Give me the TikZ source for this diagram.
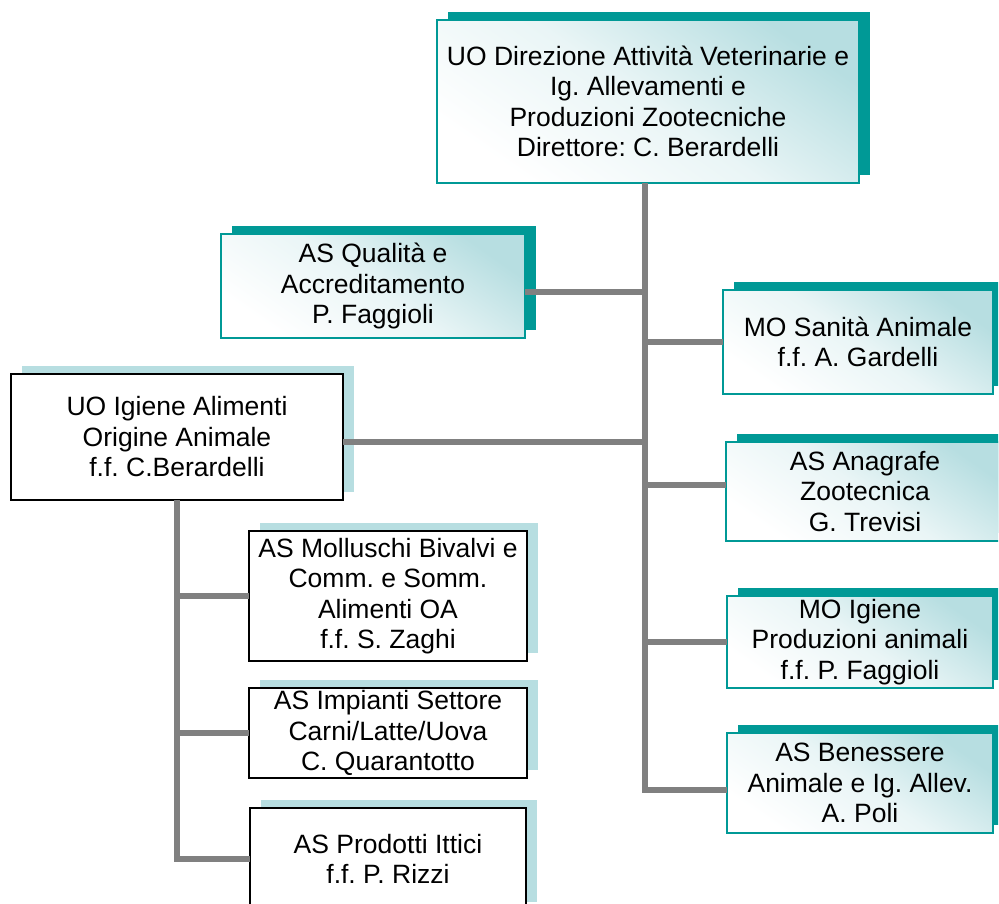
\documentclass[tikz,border=0pt]{standalone}
\usepackage{fontspec}
\setmainfont{Liberation Sans}
\usetikzlibrary{shadows}
\definecolor{tealc}{RGB}{0,153,150}
\definecolor{ltteal}{RGB}{183,222,225}
\definecolor{conng}{RGB}{128,128,128}
\tikzset{
  boxbase/.style={rectangle, inner sep=0pt, outer sep=0pt, align=center,
    font=\fontsize{26.5}{30.5}\selectfont\frenchspacing, line width=2pt},
  tealbox/.style={boxbase, draw=tealc, top color=ltteal, bottom color=white,
    middle color=white!70!ltteal, shading angle=-35,
    general shadow={fill=tealc, shadow xshift=11pt, shadow yshift=8pt}},
  blackbox/.style={boxbase, draw=black, fill=white,
    general shadow={fill=ltteal, shadow xshift=11pt, shadow yshift=8pt}},
  conn/.style={draw=conng, line width=6pt},
}
\begin{document}
\begin{tikzpicture}[x=1pt,y=-1pt]
\useasboundingbox (0,0) rectangle (999,903);
\clip (0,0) rectangle (998,903);

% top
\node[tealbox, minimum width=422pt, minimum height=163pt] (top) at (648,101.5)
  {UO Direzione Attività Veterinarie e\\Ig. Allevamenti e\\Produzioni Zootecniche\\Direttore: C. Berardelli};
\node[tealbox, minimum width=304pt, minimum height=104pt] (qual) at (373,286)
  {AS Qualità e\\Accreditamento\\P. Faggioli};
\node[tealbox, minimum width=270pt, minimum height=104pt] (san) at (858,342)
  {MO Sanità Animale\\f.f. A. Gardelli};
\node[tealbox, minimum width=278pt, minimum height=99pt] (anag) at (865,491.5)
  {AS Anagrafe\\Zootecnica\\G. Trevisi};
\node[tealbox, minimum width=266pt, minimum height=92pt] (moig) at (860,642)
  {MO Igiene\\Produzioni animali\\f.f. P. Faggioli};
\node[tealbox, minimum width=266pt, minimum height=100pt] (ben) at (860,783)
  {AS Benessere\\Animale e Ig. Allev.\\A. Poli};

% left
\node[blackbox, minimum width=332pt, minimum height=126pt] (uoig) at (177,437)
  {UO Igiene Alimenti\\Origine Animale\\f.f. C.Berardelli};
\node[blackbox, minimum width=278pt, minimum height=130pt] (moll) at (388,596)
  {AS Molluschi Bivalvi e\\Comm. e Somm.\\Alimenti OA\\f.f. S. Zaghi};
\node[blackbox, minimum width=278pt, minimum height=90pt] (imp) at (388,733)
  {AS Impianti Settore\\Carni/Latte/Uova\\C. Quarantotto};
\node[blackbox, minimum width=276pt, minimum height=102pt] (prod) at (388,859)
  {AS Prodotti Ittici\\f.f. P. Rizzi};

% connectors
\coordinate (tk) at ([xshift=-3pt]top.south);
\draw[conn] (tk) |- ([yshift=-7pt]ben.west);
\draw[conn] ([yshift=-6pt]qual.east) -- ([yshift=-6pt]qual.east -| tk);
\draw[conn] (tk |- san.west) -- (san.west);
\draw[conn] ([yshift=-5pt]uoig.east) -- ([yshift=-5pt]uoig.east -| tk);
\draw[conn] ([yshift=7pt]anag.west -| tk) -- ([yshift=7pt]anag.west);
\draw[conn] (tk |- moig.west) -- (moig.west);

\draw[conn] (uoig.south) |- (prod.west);
\draw[conn] (uoig.south |- moll.west) -- (moll.west);
\draw[conn] (uoig.south |- imp.west) -- (imp.west);
\end{tikzpicture}
\end{document}
